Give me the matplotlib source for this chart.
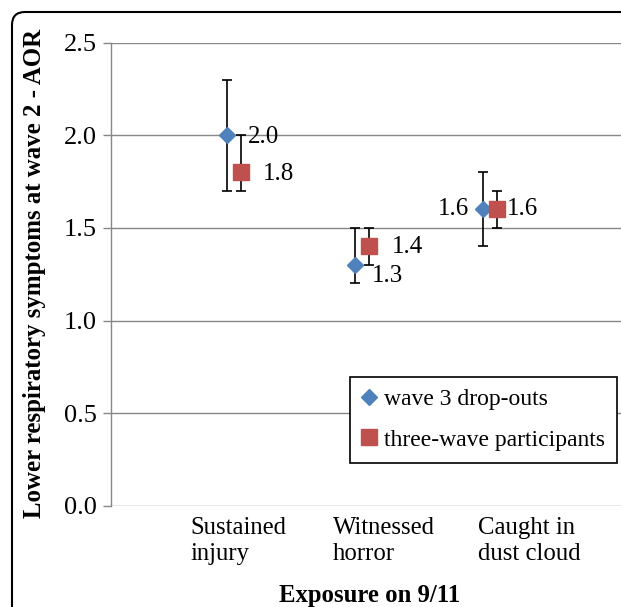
import matplotlib
matplotlib.use("Agg")
import matplotlib.pyplot as plt
from matplotlib.patches import FancyBboxPatch
from matplotlib.lines import Line2D

plt.rcParams['font.family'] = ['Liberation Serif', 'DejaVu Serif']

# ---- data ----
categories = ["Sustained\ninjury", "Witnessed\nhorror", "Caught in\ndust cloud"]
series_names = ["wave 3 drop-outs", "three-wave participants"]
dropouts = [2.0, 1.3, 1.6]
dropouts_lo = [1.7, 1.2, 1.4]
dropouts_hi = [2.3, 1.5, 1.8]
participants = [1.8, 1.4, 1.6]
participants_lo = [1.7, 1.3, 1.5]
participants_hi = [2.0, 1.5, 1.7]
yticks = [0.0, 0.5, 1.0, 1.5, 2.0, 2.5]
ytick_labels = ["0.0", "0.5", "1.0", "1.5", "2.0", "2.5"]

BLUE = "#4F81BD"
RED = "#C0504D"
GRID = "#878787"
FS = 17.8

W, H = 621, 607
fig = plt.figure(figsize=(W / 100, H / 100), dpi=100)
ax = fig.add_axes([111 / W, 1 - 505.7 / H, (W - 111) / W, (505.7 - 42.7) / H])

xpos = [1, 2, 3]
sq_off = 0.105
x_d = [x for x in xpos]
x_s = [x + sq_off for x in xpos]

def err(vals, lo, hi):
    return [[v - l for v, l in zip(vals, lo)], [h - v for v, h in zip(vals, hi)]]

ax.errorbar(x_d, dropouts, yerr=err(dropouts, dropouts_lo, dropouts_hi), fmt='none',
            ecolor='black', elinewidth=1.2, capsize=3.6, capthick=1.2, zorder=3)
ax.errorbar(x_s, participants, yerr=err(participants, participants_lo, participants_hi), fmt='none',
            ecolor='black', elinewidth=1.2, capsize=3.6, capthick=1.2, zorder=3)
ax.plot(x_d, dropouts, linestyle='none', marker='D', ms=7.8, color=BLUE,
        markeredgecolor=BLUE, zorder=4)
ax.plot(x_s, participants, linestyle='none', marker='s', ms=11.5, color=RED,
        markeredgecolor=RED, zorder=4)

# data labels (offsets in points)
d_offsets = [(14.5, -1.5, 'left'), (12, -8, 'left'), (-10.5, 0.5, 'right')]
s_offsets = [(16, -1, 'left'), (16.5, -0.5, 'left'), (7, 0, 'left')]
for x, v, (dx, dy, ha) in zip(x_d, dropouts, d_offsets):
    ax.annotate(f"{v:.1f}", (x, v), xytext=(dx, dy), textcoords='offset points',
                ha=ha, va='center', fontsize=18, zorder=5)
for x, v, (dx, dy, ha) in zip(x_s, participants, s_offsets):
    ax.annotate(f"{v:.1f}", (x, v), xytext=(dx, dy), textcoords='offset points',
                ha=ha, va='center', fontsize=18, zorder=5)

ax.set_xlim(0.0914, 4.076)
ax.set_ylim(0, 2.5)
ax.set_yticks(yticks)
ax.set_yticklabels(ytick_labels, fontsize=19)
ax.set_xticks([])
ax.yaxis.grid(True, color=GRID, linewidth=1.0)
ax.set_axisbelow(True)
for s in ['top', 'right', 'bottom']:
    ax.spines[s].set_visible(False)
ax.spines['left'].set_color(GRID)
ax.spines['left'].set_linewidth(1.0)
ax.tick_params(axis='y', colors=GRID, length=6, width=1.0, pad=4, labelcolor='black')
ax.patch.set_alpha(0)

# category labels
cat_x = [0.709, 1.826, 2.959]
for cx, lab in zip(cat_x, categories):
    ax.text(cx, -(517 - 505.7) / (505.7 - 42.7), lab, transform=ax.get_xaxis_transform(),
            ha='left', va='top', fontsize=FS, linespacing=1.25)

# axis titles
fig.text(370 / W, 1 - 602 / H, "Exposure on 9/11", ha='center', va='baseline',
         fontsize=FS, fontweight='bold')
fig.text(35 / W, 1 - 273 / H, "Lower respiratory symptoms at wave 2 - AOR",
         rotation=90, ha='center', va='center', fontsize=17.9, fontweight='bold')

# legend
handles = [Line2D([], [], linestyle='none', marker='D', ms=7.8, color=BLUE),
           Line2D([], [], linestyle='none', marker='s', ms=11.5, color=RED)]
leg = fig.legend(handles, series_names, loc='upper left',
                 bbox_to_anchor=(350 / W, 1 - 377 / H), fontsize=17,
                 frameon=True, fancybox=False, edgecolor='black', framealpha=1,
                 handlelength=0.65, handletextpad=0.3, borderpad=0.5,
                 labelspacing=0.8, borderaxespad=0)
leg.get_frame().set_linewidth(1.2)

# outer rounded frame
frame = FancyBboxPatch((12 / 100, -1.0), 10, (H - 12) / 100 + 1.0,
                       boxstyle="round,pad=0,rounding_size=0.13",
                       transform=fig.dpi_scale_trans, facecolor='none',
                       edgecolor='black', linewidth=1.5, clip_on=False)
fig.add_artist(frame)

fig.savefig("out.png", dpi=100)
